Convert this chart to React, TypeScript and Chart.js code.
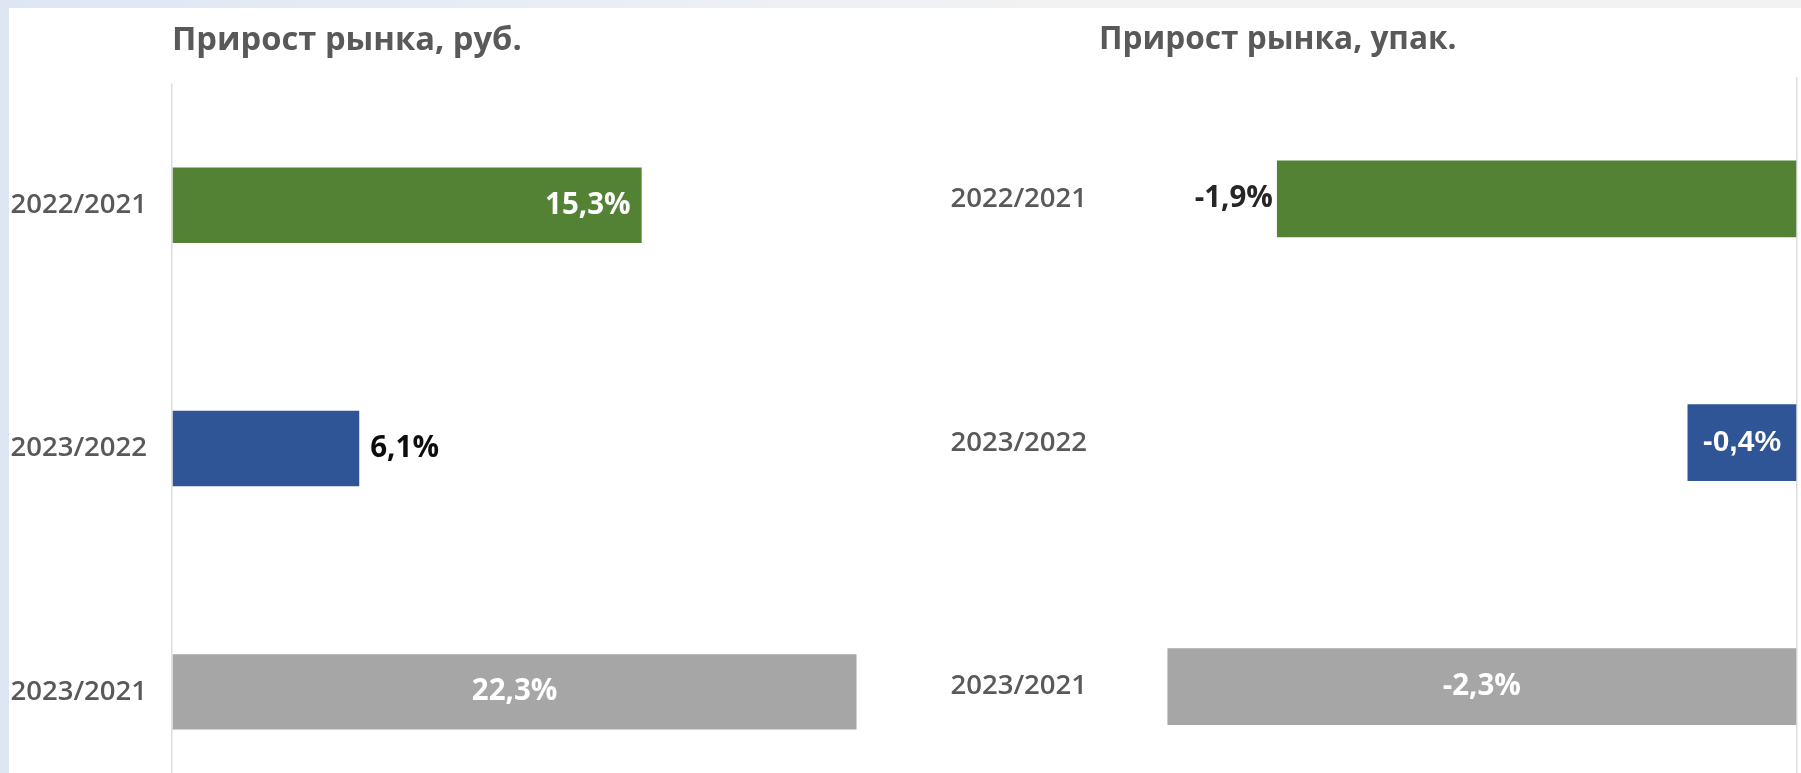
import React, { useEffect, useRef } from "react";
import { Chart, registerables } from "chart.js";

Chart.register(...registerables);

const categories = ["2022/2021", "2023/2022", "2023/2021"];
const rubGrowth = [15.3, 6.1, 22.3];
const packGrowth = [-1.9, -0.4, -2.3];
const barColors = ["#548235", "#2f5597", "#a6a6a6"];
const leftTitle = "Прирост рынка, руб.";
const rightTitle = "Прирост рынка, упак.";

const TEXT_GRAY = "#595959";
const LABEL_FONT = "bold 29.5px 'Open Sans'";

const leftLabelStyles = [
  { pos: "insideEnd", gap: 11, color: "#ffffff", font: LABEL_FONT },
  { pos: "outsideEnd", gap: 11, color: "#0d0d0d", font: LABEL_FONT },
  { pos: "center", gap: 0, color: "#ffffff", font: LABEL_FONT },
];
const rightLabelStyles = [
  { pos: "outsideEnd", gap: 4, color: "#262626", font: LABEL_FONT },
  { pos: "center", gap: 0, color: "#ffffff", font: "bold 30px 'Liberation Sans'" },
  { pos: "center", gap: 0, color: "#ffffff", font: LABEL_FONT },
];

const fmt = (v: number) => v.toFixed(1).replace(".", ",") + "%";

const barLabels = {
  id: "barLabels",
  afterDatasetsDraw(chart: any, _args: any, opts: any) {
    const ctx = chart.ctx;
    const meta = chart.getDatasetMeta(0);
    const data = chart.data.datasets[0].data as number[];
    meta.data.forEach((bar: any, i: number) => {
      const v = data[i];
      const st = opts.styles[i];
      const { x, y, base } = bar.getProps(["x", "y", "base"], true);
      const dir = v >= 0 ? 1 : -1;
      let tx = x;
      let align: CanvasTextAlign = "center";
      if (st.pos === "center") {
        tx = (x + base) / 2;
        align = "center";
      } else if (st.pos === "insideEnd") {
        tx = x - dir * st.gap;
        align = dir > 0 ? "right" : "left";
      } else {
        tx = x + dir * st.gap;
        align = dir > 0 ? "left" : "right";
      }
      ctx.save();
      ctx.font = st.font;
      ctx.fillStyle = st.color;
      ctx.textAlign = align;
      ctx.textBaseline = "middle";
      ctx.fillText(fmt(v), tx, y);
      ctx.restore();
    });
  },
};

function makeConfig(
  values: number[],
  title: string,
  titleSize: number,
  titlePadTop: number,
  titlePadBottom: number,
  min: number,
  max: number,
  yWidth: number,
  tickPad: number,
  padRight: number,
  styles: any[],
  barPct: number
): any {
  return {
    type: "bar",
    data: {
      labels: categories,
      datasets: [
        {
          data: values,
          backgroundColor: barColors,
          borderWidth: 0,
          categoryPercentage: 1,
          barPercentage: barPct,
        },
      ],
    },
    plugins: [barLabels],
    options: {
      indexAxis: "y",
      responsive: false,
      animation: false,
      layout: { padding: { left: 0, right: padRight, top: 0, bottom: 0 } },
      scales: {
        x: {
          min,
          max,
          ticks: { display: false },
          border: { display: false },
          grid: {
            drawTicks: false,
            lineWidth: 1.5,
            color: (c: any) => (c.tick && c.tick.value === 0 ? "#dedede" : "rgba(0,0,0,0)"),
          },
        },
        y: {
          grid: { display: false, drawTicks: false },
          border: { display: false },
          ticks: {
            padding: tickPad,
            color: TEXT_GRAY,
            font: { family: "'Open Sans'", size: 27.5, weight: "600" },
          },
          afterFit: (scale: any) => {
            scale.width = yWidth;
          },
        },
      },
      plugins: {
        legend: { display: false },
        tooltip: { enabled: false },
        title: {
          display: true,
          text: title,
          align: "start",
          fullSize: false,
          color: TEXT_GRAY,
          font: { family: "'Open Sans'", size: titleSize, weight: "bold", lineHeight: 1.2 },
          padding: { top: titlePadTop, bottom: titlePadBottom },
        },
        barLabels: { styles },
      },
    },
  };
}

export default function App() {
  const leftRef = useRef<HTMLCanvasElement>(null);
  const rightRef = useRef<HTMLCanvasElement>(null);

  useEffect(() => {
    document.documentElement.style.overflow = "hidden";
    document.body.style.margin = "0";
    document.body.style.overflow = "hidden";
    const left = new Chart(
      leftRef.current as HTMLCanvasElement,
      makeConfig(rubGrowth, leftTitle, 32.7, 13, 23.3, 0, 23, 163, 25, 11, leftLabelStyles, 0.31)
    );
    const right = new Chart(
      rightRef.current as HTMLCanvasElement,
      makeConfig(packGrowth, rightTitle, 31.6, 13, 18, -2.55, 0, 210, 12, 4, rightLabelStyles, 0.315)
    );
    return () => {
      left.destroy();
      right.destroy();
    };
  }, []);

  return (
    <div
      style={{
        position: "relative",
        width: 1801,
        height: 773,
        overflow: "hidden",
        background: "#dfe6f3",
      }}
    >
      <div
        style={{
          position: "absolute",
          left: 0,
          top: 0,
          width: 1801,
          height: 8,
          background: "linear-gradient(to right, #dfe6f3 0%, #eef0f4 45%, #f2f2f2 60%, #f2f2f2 100%)",
        }}
      />
      <div
        style={{
          position: "absolute",
          left: 9,
          top: 8,
          width: 1792,
          height: 765,
          background: "#ffffff",
          overflow: "hidden",
        }}
      >
        <canvas
          ref={leftRef}
          width={880}
          height={847}
          style={{ position: "absolute", left: 0, top: 0, width: 880, height: 847, display: "block" }}
        />
        <canvas
          ref={rightRef}
          width={912}
          height={829}
          style={{ position: "absolute", left: 880, top: 0, width: 912, height: 829, display: "block" }}
        />
      </div>
    </div>
  );
}
